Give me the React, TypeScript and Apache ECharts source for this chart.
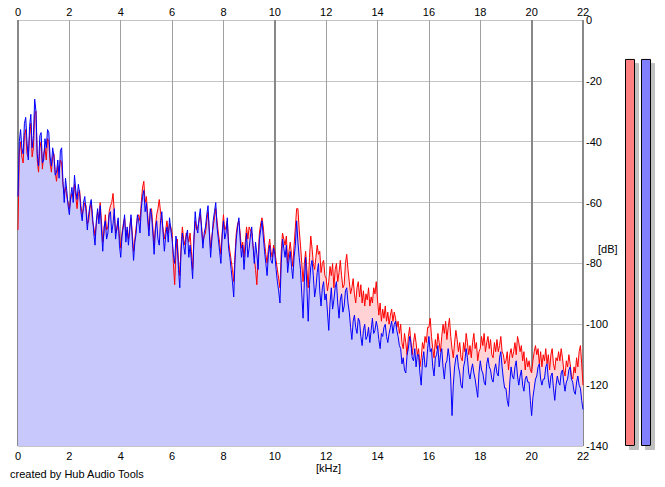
import React, { useEffect, useRef } from "react";
import * as echarts from "echarts";

// Frequency bin spacing (kHz) of the spectrum arrays below
const STEP_KHZ = 0.05;

// Left channel (red), dB, one value per 0.05 kHz from 0 to 22 kHz (20 per row = 1 kHz)
const LEFT_DB = [
  -69, -44, -40, -45, -47, -38, -36, -44, -45, -38, -34, -45, -42, -31, -30, -46, -50, -42, -40, -49,
  -44, -42, -46, -39, -40, -47, -50, -45, -44, -50, -53, -48, -50, -46, -47, -54, -57, -55, -58, -60,
  -62, -59, -57, -58, -54, -58, -62, -57, -56, -61, -64, -62, -60, -61, -67, -66, -62, -60, -66, -68,
  -71, -67, -63, -65, -60, -66, -73, -70, -64, -69, -68, -63, -61, -60, -57, -63, -70, -69, -66, -71,
  -75, -70, -67, -65, -70, -69, -72, -68, -65, -70, -76, -72, -68, -65, -64, -66, -60, -55, -53, -60,
  -58, -64, -69, -63, -62, -68, -74, -68, -64, -62, -59, -63, -66, -69, -72, -69, -66, -70, -67, -68,
  -70, -80, -87, -76, -72, -79, -84, -74, -68, -72, -74, -70, -71, -73, -70, -76, -82, -72, -66, -69,
  -68, -66, -64, -68, -73, -71, -70, -66, -63, -69, -75, -71, -68, -65, -62, -66, -70, -73, -77, -70,
  -64, -69, -68, -66, -73, -76, -79, -82, -86, -77, -70, -67, -66, -70, -75, -73, -78, -73, -68, -72,
  -68, -69, -70, -74, -78, -82, -87, -78, -70, -67, -65, -68, -73, -77, -80, -75, -72, -76, -78, -74,
  -76, -79, -82, -85, -88, -76, -70, -72, -74, -71, -80, -76, -73, -77, -81, -74, -68, -62, -62, -69,
  -74, -80, -86, -80, -76, -82, -88, -78, -71, -75, -80, -82, -78, -74, -77, -76, -83, -80, -79, -84,
  -85, -89, -86, -81, -84, -80, -88, -82, -80, -86, -83, -79, -84, -88, -87, -80, -77, -82, -86, -90,
  -88, -85, -90, -93, -88, -86, -91, -87, -93, -89, -94, -90, -92, -88, -94, -91, -93, -88, -90, -86,
  -92, -97, -93, -99, -95, -98, -94, -99, -96, -100, -97, -95, -99, -96, -98, -101, -99, -103, -100, -106,
  -108, -103, -106, -110, -104, -101, -106, -110, -106, -103, -106, -110, -108, -114, -111, -106, -108, -104, -106, -101,
  -101, -98, -104, -108, -111, -105, -108, -103, -106, -109, -104, -100, -103, -99, -105, -101, -98, -104, -108, -111,
  -106, -102, -105, -109, -106, -111, -112, -106, -109, -103, -106, -110, -107, -111, -106, -103, -108, -106, -112, -109,
  -108, -104, -107, -103, -109, -106, -104, -108, -105, -110, -111, -106, -109, -105, -109, -107, -104, -109, -110, -113,
  -112, -109, -115, -110, -108, -111, -109, -106, -110, -104, -106, -109, -107, -112, -109, -115, -111, -114, -112, -115,
  -116, -112, -109, -107, -110, -108, -113, -109, -114, -110, -112, -108, -113, -110, -115, -110, -108, -113, -115, -111,
  -112, -109, -112, -108, -111, -115, -117, -112, -114, -110, -113, -117, -118, -114, -116, -111, -114, -109, -107, -113,
  -120,
];

// Right channel (blue), dB, same bins
const RIGHT_DB = [
  -58, -40, -36, -42, -44, -34, -32, -40, -46, -35, -31, -42, -38, -26, -30, -44, -48, -38, -37, -47,
  -46, -39, -42, -36, -37, -45, -48, -42, -45, -51, -50, -46, -52, -43, -42, -53, -60, -52, -56, -61,
  -64, -58, -55, -60, -51, -56, -59, -54, -57, -63, -66, -60, -58, -63, -69, -64, -61, -59, -64, -70,
  -74, -66, -62, -67, -61, -69, -76, -68, -66, -72, -70, -64, -63, -70, -67, -62, -72, -68, -65, -74,
  -78, -71, -68, -64, -73, -68, -74, -69, -64, -72, -79, -73, -70, -64, -66, -70, -62, -58, -56, -63,
  -60, -66, -71, -62, -64, -70, -77, -69, -66, -72, -74, -66, -63, -70, -76, -71, -68, -73, -65, -69,
  -72, -77, -80, -71, -74, -82, -88, -76, -70, -74, -77, -71, -69, -78, -74, -79, -85, -72, -63, -68,
  -70, -65, -62, -69, -75, -70, -68, -64, -61, -70, -78, -72, -66, -63, -60, -68, -72, -76, -80, -71,
  -66, -72, -70, -65, -75, -78, -82, -86, -91, -79, -72, -68, -65, -72, -78, -74, -82, -76, -70, -78,
  -75, -71, -68, -74, -80, -73, -77, -82, -72, -69, -66, -71, -76, -80, -84, -77, -74, -79, -80, -75,
  -77, -82, -86, -89, -93, -80, -72, -75, -78, -74, -83, -79, -76, -81, -85, -78, -74, -66, -73, -78,
  -82, -90, -98, -86, -78, -88, -99, -87, -81, -79, -84, -91, -88, -83, -80, -89, -94, -88, -86, -92,
  -90, -96, -102, -93, -88, -95, -92, -88, -86, -93, -98, -92, -90, -96, -94, -89, -88, -93, -96, -101,
  -105, -99, -97, -101, -103, -98, -99, -104, -107, -102, -100, -105, -104, -101, -106, -102, -98, -103, -102, -99,
  -101, -105, -108, -103, -104, -101, -100, -104, -106, -103, -101, -99, -103, -100, -99, -102, -104, -107, -108, -113,
  -111, -115, -116, -110, -108, -104, -106, -111, -112, -108, -114, -110, -110, -116, -120, -112, -109, -114, -114, -108,
  -104, -109, -108, -114, -117, -111, -110, -107, -114, -110, -108, -114, -118, -113, -112, -108, -111, -118, -130, -120,
  -114, -111, -110, -114, -116, -120, -121, -114, -112, -108, -111, -116, -118, -115, -113, -116, -118, -121, -124, -116,
  -112, -115, -116, -119, -120, -113, -111, -114, -115, -118, -119, -115, -113, -116, -117, -111, -109, -114, -118, -121,
  -121, -125, -127, -119, -114, -117, -118, -114, -112, -117, -120, -117, -115, -120, -122, -118, -117, -119, -119, -125,
  -130, -124, -121, -118, -117, -114, -113, -118, -120, -118, -118, -114, -113, -118, -121, -117, -116, -121, -125, -120,
  -117, -119, -120, -116, -115, -119, -122, -119, -118, -115, -114, -118, -119, -122, -123, -119, -117, -120, -121, -125,
  -128,
];

// Level meters (dB)
const METER_CHANNELS = ["L", "R"];
const METER_DB = [-12.8, -12.8];

const X_MIN = 0;
const X_MAX = 22;
const Y_MIN = -140;
const Y_MAX = 0;

const toPairs = (vals: number[]) =>
  vals.map((v, i) => [Number((i * STEP_KHZ).toFixed(2)), v]);

export default function App() {
  const ref = useRef<HTMLDivElement>(null);

  useEffect(() => {
    if (!ref.current) return;
    const chart = echarts.init(ref.current, undefined, { renderer: "svg" });
    const font = "Liberation Sans, Arial, sans-serif";
    const leftData = toPairs(LEFT_DB);
    const rightData = toPairs(RIGHT_DB);

    chart.setOption({
      animation: false,
      backgroundColor: "#ffffff",
      grid: [
        { left: 18, top: 20, width: 565, height: 426 },
        { left: 622, top: 20, width: 32, height: 426 },
      ],
      xAxis: [
        {
          type: "value",
          gridIndex: 0,
          position: "bottom",
          min: X_MIN,
          max: X_MAX,
          interval: 2,
          axisLine: { show: false },
          axisTick: { show: false },
          axisLabel: { color: "#000", fontSize: 11, fontFamily: font, margin: 4 },
          splitLine: { show: true, lineStyle: { color: "#a0a0a0", width: 1 } },
        },
        {
          type: "value",
          gridIndex: 0,
          position: "top",
          min: X_MIN,
          max: X_MAX,
          interval: 2,
          axisLine: { show: false },
          axisTick: { show: false },
          axisLabel: { color: "#000", fontSize: 11, fontFamily: font, margin: 3 },
          splitLine: { show: false },
        },
        {
          type: "value",
          gridIndex: 0,
          position: "bottom",
          min: X_MIN,
          max: X_MAX,
          interval: 10,
          axisLine: { show: false },
          axisTick: { show: false },
          axisLabel: { show: false },
          splitLine: { show: true, lineStyle: { color: "#888888", width: 2 } },
        },
        {
          type: "category",
          gridIndex: 1,
          data: METER_CHANNELS,
          show: false,
        },
      ],
      yAxis: [
        {
          type: "value",
          gridIndex: 0,
          position: "right",
          min: Y_MIN,
          max: Y_MAX,
          interval: 20,
          axisLine: { show: false },
          axisTick: { show: false },
          axisLabel: { color: "#000", fontSize: 11, fontFamily: font, margin: 3 },
          splitLine: { show: true, lineStyle: { color: "#c4c4c4", width: 1 } },
        },
        {
          type: "value",
          gridIndex: 1,
          min: 0,
          max: Y_MAX - Y_MIN,
          show: false,
        },
      ],
      series: [
        {
          name: "L area",
          type: "line",
          xAxisIndex: 0,
          yAxisIndex: 0,
          data: leftData,
          showSymbol: false,
          lineStyle: { width: 0, opacity: 0 },
          areaStyle: { color: "#ffd2d6", opacity: 1, origin: "start" },
          z: 1,
          silent: true,
        },
        {
          name: "R area",
          type: "line",
          xAxisIndex: 0,
          yAxisIndex: 0,
          data: rightData,
          showSymbol: false,
          lineStyle: { width: 0, opacity: 0 },
          areaStyle: { color: "#c8c8fc", opacity: 1, origin: "start" },
          z: 2,
          silent: true,
        },
        {
          name: "L",
          type: "line",
          xAxisIndex: 0,
          yAxisIndex: 0,
          data: leftData,
          showSymbol: false,
          lineStyle: { color: "#ff0000", width: 1 },
          z: 3,
        },
        {
          name: "R",
          type: "line",
          xAxisIndex: 0,
          yAxisIndex: 0,
          data: rightData,
          showSymbol: false,
          lineStyle: { color: "#0000ff", width: 1 },
          z: 4,
        },
        {
          name: "meter",
          type: "bar",
          xAxisIndex: 3,
          yAxisIndex: 1,
          barWidth: 10,
          data: METER_DB.map((v, i) => ({
            value: v - Y_MIN,
            itemStyle: {
              color: i === 0 ? "#ff8080" : "#8080ff",
              borderColor: "#000",
              borderWidth: 1,
              shadowColor: "#c0c0c0",
              shadowOffsetX: 4,
              shadowOffsetY: 4,
              shadowBlur: 0,
            },
          })),
        },
      ],
      graphic: [
        {
          type: "text",
          left: 598,
          top: 243,
          style: { text: "[dB]", fill: "#000", fontSize: 11, fontFamily: font },
        },
        {
          type: "text",
          left: 316,
          top: 462,
          style: { text: "[kHz]", fill: "#000", fontSize: 11, fontFamily: font },
        },
        {
          type: "text",
          left: 10,
          top: 468,
          style: {
            text: "created by Hub Audio Tools",
            fill: "#000",
            fontSize: 11,
            fontFamily: font,
          },
        },
      ],
    });

    return () => chart.dispose();
  }, []);

  return (
    <div
      ref={ref}
      style={{ position: "fixed", left: 0, top: 0, width: 665, height: 487 }}
    />
  );
}
